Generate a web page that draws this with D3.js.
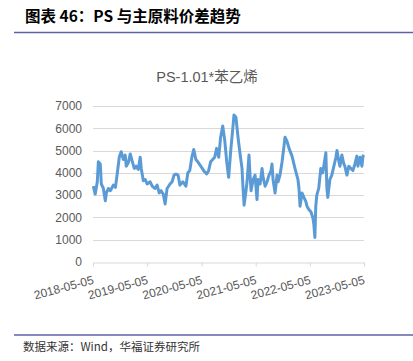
<!DOCTYPE html>
<html>
<head>
<meta charset="utf-8">
<script src="https://cdn.jsdelivr.net/npm/d3@7"></script>
<style>
  body { margin: 0; background: #fff; }
  svg { display: block; }
</style>
</head>
<body>
<div id="chart"></div>
<script>
// PS minus 1.01 * styrene spread
var dates = [
  "2018-05-07","2018-05-20","2018-06-03","2018-06-10","2018-06-23","2018-06-30","2018-07-14","2018-07-27",
  "2018-08-03","2018-08-17","2018-08-30","2018-09-19","2018-10-03","2018-10-16","2018-10-29","2018-11-11",
  "2018-11-25","2018-12-08","2018-12-15","2018-12-29","2019-01-11","2019-01-25","2019-02-07","2019-02-20",
  "2019-03-06","2019-03-19","2019-03-26","2019-04-09","2019-04-22","2019-05-05","2019-05-25","2019-06-08",
  "2019-06-28","2019-07-11","2019-07-25","2019-08-07","2019-08-21","2019-09-03","2019-09-16","2019-10-06",
  "2019-10-20","2019-11-02","2019-11-15","2019-11-29","2019-12-12","2020-01-01","2020-01-21","2020-02-03",
  "2020-02-16","2020-03-01","2020-03-14","2020-03-28","2020-04-10","2020-04-30","2020-05-20","2020-06-09",
  "2020-06-22","2020-07-06","2020-07-19","2020-08-02","2020-08-15","2020-08-29","2020-09-11","2020-09-25",
  "2020-10-08","2020-10-22","2020-11-04","2020-11-18","2020-12-02","2020-12-10","2020-12-23","2021-01-06",
  "2021-01-19","2021-02-02","2021-02-09","2021-02-16","2021-03-01","2021-03-08","2021-03-21","2021-03-28",
  "2021-04-04","2021-04-18","2021-05-01","2021-05-14","2021-05-21","2021-06-04","2021-06-17","2021-06-24",
  "2021-07-08","2021-07-21","2021-08-03","2021-08-17","2021-08-23","2021-08-30","2021-09-13","2021-09-26",
  "2021-10-03","2021-10-16","2021-10-30","2021-11-12","2021-11-19","2021-12-03","2021-12-16","2022-01-05",
  "2022-01-25","2022-02-14","2022-02-21","2022-02-28","2022-03-13","2022-03-26","2022-04-09","2022-04-16",
  "2022-04-29","2022-05-12","2022-05-25","2022-06-01","2022-06-08","2022-06-14","2022-06-21","2022-07-04",
  "2022-07-18","2022-07-31","2022-08-14","2022-08-21","2022-08-28","2022-09-03","2022-09-17","2022-09-30",
  "2022-10-14","2022-10-28","2022-11-04","2022-11-17","2022-11-24","2022-12-07","2022-12-20","2022-12-27",
  "2023-01-10","2023-01-23","2023-02-06","2023-02-19","2023-03-05","2023-03-18","2023-03-25","2023-04-08",
  "2023-04-21","2023-04-28","2023-05-05"
];
var spread = [
  3400,3050,3600,4500,4400,3500,3300,2750,
  3100,3300,3200,3450,3350,4000,4700,4950,
  4600,4800,4300,4450,4850,4500,4200,4300,
  4150,4700,4200,3650,3700,3500,3600,3400,
  3300,3450,3100,3200,3050,2600,3300,3500,
  3600,3900,3950,3900,3450,3600,3400,4000,
  4100,4700,5050,4600,4500,4300,4100,3950,
  4100,4500,4600,4700,5100,4700,5600,6100,
  5500,4500,3800,5000,6000,6600,6500,5600,
  4900,4200,3300,2550,3200,3600,4800,3900,
  3200,3700,3900,2800,3700,3500,4200,3800,
  3400,3600,3900,4100,4400,3700,3100,3900,
  3600,3900,4500,5200,5600,5400,5100,4750,
  4200,3700,3300,2500,3100,2900,2700,2500,
  2350,2250,2000,1700,1100,2500,3000,3300,
  4200,4000,4600,4900,3300,2900,3700,3900,
  4300,4700,5000,4500,4300,4800,4400,4300,
  3900,4300,4200,4100,4400,4750,4300,4700,
  4300,4750,4800
];
var yTicks = [0, 1000, 2000, 3000, 4000, 5000, 6000, 7000];
var xTicks = ["2018-05-05", "2019-05-05", "2020-05-05", "2021-05-05", "2022-05-05", "2023-05-05"];

var parse = d3.timeParse("%Y-%m-%d");
var series = dates.map(function(d, i) { return {"date": parse(d), "value": spread[i]}; });

var width = 413, height = 361;
var svg = d3.select("#chart").append("svg")
    .attr("width", width)
    .attr("height", height);

// report header
svg.append("text")
    .attr("x", 25).attr("y", 22)
    .attr("font-family", "'Noto Sans CJK SC', sans-serif")
    .attr("font-weight", "bold")
    .attr("font-size", "15.5px")
    .attr("fill", "#000")
    .text("图表 46：PS 与主原料价差趋势");
svg.append("line")
    .attr("x1", 14).attr("x2", width)
    .attr("y1", 32.5).attr("y2", 32.5)
    .attr("stroke", "#5f61a8").attr("stroke-width", 1.5);

// chart title
svg.append("text")
    .attr("x", 207).attr("y", 82)
    .attr("text-anchor", "middle")
    .attr("font-family", "'Liberation Sans', 'Noto Sans CJK SC', sans-serif")
    .attr("font-size", "14.5px")
    .attr("fill", "#595959")
    .text("PS-1.01*苯乙烯");

var x = d3.scaleTime()
    .domain([parse(xTicks[0]), parse(xTicks[xTicks.length - 1])])
    .range([93, 364]);
var y = d3.scaleLinear()
    .domain([0, 7000])
    .range([262, 106]);

// gridlines
svg.append("g").selectAll("line")
    .data(yTicks.filter(function(d) { return d > 0; }))
    .enter().append("line")
        .attr("x1", x.range()[0]).attr("x2", x.range()[1])
        .attr("y1", function(d) { return Math.round(y(d)) + 0.5; })
        .attr("y2", function(d) { return Math.round(y(d)) + 0.5; })
        .attr("stroke", "#d9d9d9");

// y axis labels
var yAxis = svg.append("g")
    .attr("transform", "translate(" + x.range()[0] + ",0)")
    .call(d3.axisLeft(y).tickValues(yTicks).tickSize(0).tickPadding(11).tickFormat(d3.format("d")));
yAxis.select(".domain").remove();
yAxis.selectAll("text")
    .attr("font-family", "'Liberation Sans', sans-serif")
    .attr("font-size", "12px")
    .attr("fill", "#595959");

// x axis
var xAxis = svg.append("g")
    .attr("transform", "translate(0," + (Math.round(y(0)) + 0.5) + ")")
    .call(d3.axisBottom(x).tickValues(xTicks.map(parse)).tickSize(4).tickSizeOuter(0)
        .tickFormat(d3.timeFormat("%Y-%m-%d")));
xAxis.select(".domain").attr("stroke", "#d9d9d9");
xAxis.selectAll(".tick line").attr("stroke", "#d9d9d9");
xAxis.selectAll("text")
    .attr("font-family", "'Liberation Sans', sans-serif")
    .attr("font-size", "12px")
    .attr("fill", "#595959")
    .attr("text-anchor", "end")
    .attr("dy", null)
    .attr("y", 0)
    .attr("transform", "translate(1,21) rotate(-15)");

// spread line
var linefun = d3.line()
    .x(function(d) { return x(d.date); })
    .y(function(d) { return y(d.value); });
svg.append("path")
    .attr("d", linefun(series))
    .attr("fill", "none")
    .attr("stroke", "#5b9bd5")
    .attr("stroke-width", 3)
    .attr("stroke-linejoin", "round");

// source footer
svg.append("line")
    .attr("x1", 14).attr("x2", width)
    .attr("y1", 335).attr("y2", 335)
    .attr("stroke", "#5f61a8").attr("stroke-width", 1.5);
svg.append("text")
    .attr("x", 23).attr("y", 351)
    .attr("font-family", "'Noto Sans CJK SC', sans-serif")
    .attr("font-size", "11.5px")
    .attr("fill", "#333")
    .text("数据来源：Wind，华福证券研究所");
</script>
</body>
</html>
